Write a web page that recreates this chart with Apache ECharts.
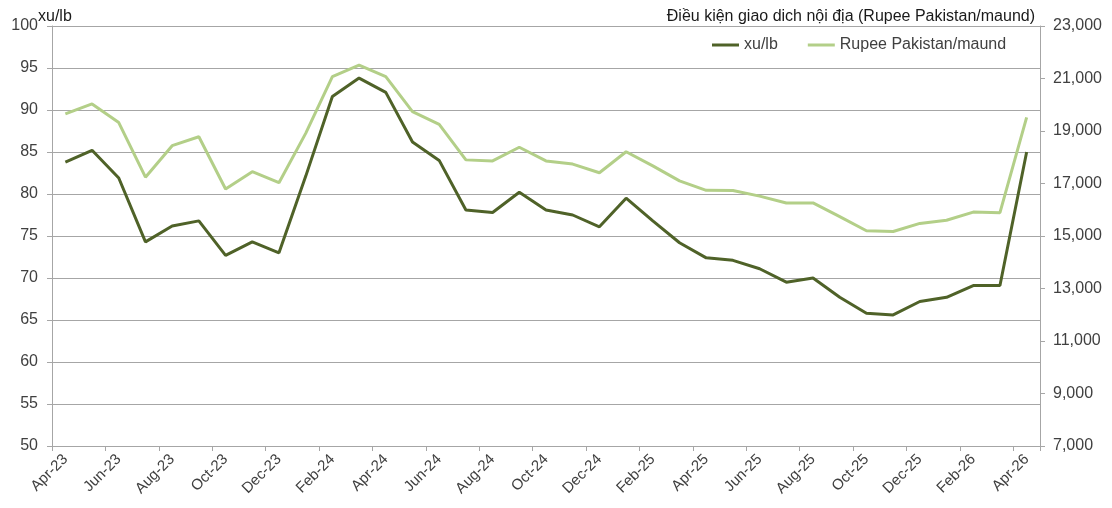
<!DOCTYPE html>
<html>
<head>
<meta charset="utf-8">
<script src="https://cdn.jsdelivr.net/npm/echarts@6/dist/echarts.min.js"></script>
<style>
html,body{margin:0;padding:0;background:#fff;}
#c{width:1112px;height:508px;}
</style>
</head>
<body>
<div id="c"></div>
<script>
const categories = ["Apr-23","May-23","Jun-23","Jul-23","Aug-23","Sep-23","Oct-23","Nov-23","Dec-23",
  "Jan-24","Feb-24","Mar-24","Apr-24","May-24","Jun-24","Jul-24","Aug-24","Sep-24","Oct-24","Nov-24","Dec-24",
  "Jan-25","Feb-25","Mar-25","Apr-25","May-25","Jun-25","Jul-25","Aug-25","Sep-25","Oct-25","Nov-25","Dec-25",
  "Jan-26","Feb-26","Mar-26","Apr-26"];
const xuLb = [83.8,85.2,81.9,74.3,76.2,76.8,72.7,74.3,73.0,
  82.1,91.6,93.8,92.1,86.2,84.0,78.1,77.8,80.2,78.1,77.5,76.1,
  79.5,76.8,74.2,72.4,72.1,71.1,69.5,70.0,67.7,65.8,65.6,67.2,
  67.7,69.1,69.1,85.0];
const rupeeMaund = [19650,20030,19320,17240,18440,18780,16790,17450,17030,
  18910,21070,21510,21070,19740,19250,17900,17860,18380,17860,17740,17410,
  18210,17670,17100,16740,16730,16520,16260,16260,15740,15200,15170,15480,
  15600,15910,15890,19520];
const leftTicks = [50,55,60,65,70,75,80,85,90,95,100];
const rightTicks = [7000,9000,11000,13000,15000,17000,19000,21000,23000];
const leftName = 'xu/lb';
const rightName = 'Điều kiện giao dich nội địa (Rupee Pakistan/maund)';

const FONT = '"Liberation Sans", Arial, sans-serif';
const LABEL = '#404040';
const AXIS = '#a6a6a6';
const DARK = '#4F6228';
const LIGHT = '#B3CF88';

const chart = echarts.init(document.getElementById('c'));
chart.setOption({
  animation: false,
  textStyle: {fontFamily: FONT},
  title: [
    {text: leftName, left: 38, top: 9, padding: 0,
     textStyle: {fontFamily: FONT, fontSize: 16, fontWeight: 'normal', color: '#1a1a1a'}},
    {text: rightName, right: 77, top: 9, padding: 0,
     textStyle: {fontFamily: FONT, fontSize: 16, fontWeight: 'normal', color: '#1a1a1a'}}
  ],
  grid: {left: 52, right: 72, top: 26, bottom: 62, containLabel: false},
  legend: {
    left: 707, top: 32,
    itemWidth: 27, itemHeight: 3, itemGap: 30,
    icon: 'rect',
    textStyle: {fontFamily: FONT, fontSize: 16, color: LABEL},
    data: [
      {name: 'xu/lb', itemStyle: {color: DARK}},
      {name: 'Rupee Pakistan/maund', itemStyle: {color: LIGHT}}
    ]
  },
  xAxis: {
    type: 'category',
    data: categories,
    boundaryGap: true,
    axisLine: {lineStyle: {color: AXIS, width: 1}},
    axisTick: {show: true, interval: 1, length: 5, lineStyle: {color: AXIS}},
    axisLabel: {interval: 1, rotate: 45, fontSize: 15, color: LABEL, fontFamily: FONT, margin: 11}
  },
  yAxis: [
    {
      type: 'value',
      min: leftTicks[0], max: leftTicks[leftTicks.length-1], interval: 5,
      axisLine: {show: true, lineStyle: {color: AXIS}},
      axisTick: {show: true, length: 5, lineStyle: {color: AXIS}},
      axisLabel: {fontSize: 16, color: LABEL, fontFamily: FONT, margin: 14},
      splitLine: {show: true, lineStyle: {color: AXIS, width: 1}}
    },
    {
      type: 'value',
      min: rightTicks[0], max: rightTicks[rightTicks.length-1],
      position: 'right',
      axisLine: {show: true, lineStyle: {color: AXIS}},
      axisTick: {show: true, length: 5, lineStyle: {color: AXIS}, customValues: rightTicks},
      axisLabel: {fontSize: 16, color: LABEL, fontFamily: FONT, margin: 13, customValues: rightTicks,
        formatter: v => v.toLocaleString('en-US')},
      splitLine: {show: false}
    }
  ],
  series: [
    {
      name: 'xu/lb', type: 'line', yAxisIndex: 0, data: xuLb,
      showSymbol: false, symbol: 'none',
      lineStyle: {color: DARK, width: 3}, itemStyle: {color: DARK}, z: 3
    },
    {
      name: 'Rupee Pakistan/maund', type: 'line', yAxisIndex: 1, data: rupeeMaund,
      showSymbol: false, symbol: 'none',
      lineStyle: {color: LIGHT, width: 3}, itemStyle: {color: LIGHT}, z: 2
    }
  ]
});
</script>
</body>
</html>
